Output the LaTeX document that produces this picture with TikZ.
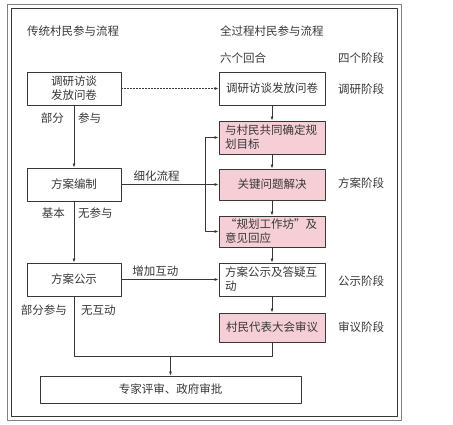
\documentclass[tikz,border=0pt]{standalone}
\usepackage{fontspec}
\newfontfamily\cjk{Noto Sans CJK SC}
\usetikzlibrary{arrows.meta}
\definecolor{pinkbox}{RGB}{246,206,214}
\definecolor{inkgray}{RGB}{55,55,55}
\begin{document}
\begin{tikzpicture}[x=1pt, y=-1pt, font=\cjk\fontsize{11.5}{14}\selectfont, line join=round, >={Latex[length=4pt,width=3pt]}]
		\tikzset{
		box/.style={draw=inkgray, line width=0.9pt, text=inkgray, inner sep=0pt, minimum height=33pt},
		oldbox/.style={box, minimum width=94pt, align=center},
		newbox/.style={box, minimum width=106pt, text width=94pt, align=left},
		talk/.style={box, fill=pinkbox},
		lbl/.style={text=inkgray, inner sep=0pt},
		wire/.style={draw=inkgray, line width=0.7pt}
		}
		\useasboundingbox (0,0) rectangle (453,424);
		% frame
		\draw[gray, line width=0.8pt] (7,4) rectangle (401,420);
		\draw[inkgray, line width=0.8pt] (11,8) rectangle (397,416);
		% titles
		\node[lbl, anchor=west] (told) at (27,31) {传统村民参与流程};
		\node[lbl, anchor=west] (tnew) at (220,31) {全过程村民参与流程};
		\node[lbl, anchor=west] (rounds) at (220,58) {六个回合};
		\node[lbl, anchor=west] (stages) at (338,58) {四个阶段};
		% traditional flow
		\node[oldbox] (trad1) at (74,88.5) {调研访谈\\发放问卷};
		\node[oldbox] (trad2) at (74,184.5) {方案编制};
		\node[oldbox] (trad3) at (74,279.5) {方案公示};
		% full-process flow
		\node[newbox, align=center] (full1) at (272,88.5) {调研访谈发放问卷};
		\node[newbox, talk] (full2) at (272,137.5) {与村民共同确定规\\划目标};
		\node[newbox, talk, align=center, minimum height=31pt] (full3) at (272,184.5) {关键问题解决};
		\node[newbox, talk, minimum height=31pt] (full4) at (272,231.5) {“规划工作坊”及\\意见回应};
		\node[newbox] (full5) at (272,279.5) {方案公示及答疑互\\动};
		\node[newbox, talk, align=center, minimum height=29pt] (full6) at (272,327.5) {村民代表大会审议};
		\node[box, minimum width=261pt, minimum height=27pt] (approve) at (170.5,389.5) {专家评审、政府审批};
		% stages
		\node[lbl, anchor=west] (st1) at (338,89) {调研阶段};
		\node[lbl, anchor=west] (st2) at (338,183) {方案阶段};
		\node[lbl, anchor=west] (st3) at (338,281) {公示阶段};
		\node[lbl, anchor=west] (st4) at (338,327) {审议阶段};
		% side notes
		\node[lbl, anchor=east] (n1a) at (64,118) {部分};
		\node[lbl, anchor=west] (n1b) at (78,118) {参与};
		\node[lbl, anchor=east] (n2a) at (65,213) {基本};
		\node[lbl, anchor=west] (n2b) at (78,213) {无参与};
		\node[lbl, anchor=east] (n3a) at (67,310) {部分参与};
		\node[lbl, anchor=west] (n3b) at (81,310) {无互动};
		\coordinate (split) at (205,184.5);
		\coordinate (merge) at (170.5,356);
		% connectors
		\draw[wire, ->] (trad1) -- (trad2);
		\draw[wire, ->] (trad2) -- (trad3);
		\draw[wire, ->, dash pattern=on 2pt off 1pt] (trad1) -- (full1);
		\foreach \a/\b in {full1/full2, full2/full3, full3/full4, full4/full5, full5/full6}{
		\draw[wire, ->] (\a) -- (\b);
		}
		\draw[wire] (trad2) -- node[lbl, above=3pt, pos=0.42] {细化流程} (split);
		\draw[wire, ->] (split) -- (full3);
		\draw[wire, ->] (split) |- (full2);
		\draw[wire, ->] (split) |- (full4);
		\draw[wire, ->] (trad3) -- node[lbl, above=3pt, pos=0.35] {增加互动} (full5);
		\draw[wire] (trad3) |- (merge);
		\draw[wire] (full6) |- (merge);
		\draw[wire, ->] (merge) -- (approve);
	\end{tikzpicture}
\end{document}
